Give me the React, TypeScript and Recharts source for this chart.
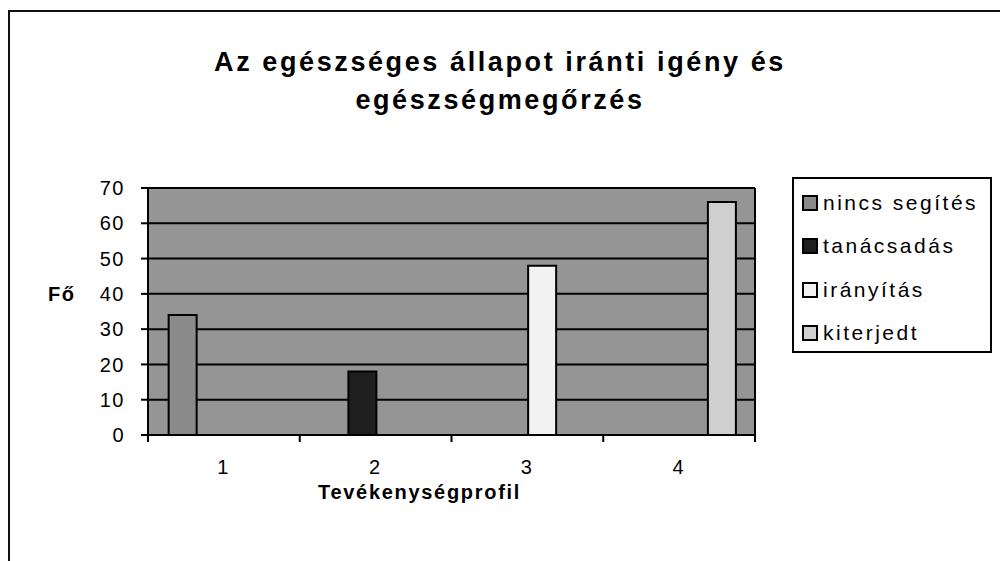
import React from 'react';
import { BarChart, Bar, XAxis, YAxis, CartesianGrid } from 'recharts';

const categories = ['1', '2', '3', '4'];
const nincsSegites = [34, null, null, null];
const tanacsadas = [null, 18, null, null];
const iranyitas = [null, null, 48, null];
const kiterjedt = [null, null, null, 66];
const yTicks = [0, 10, 20, 30, 40, 50, 60, 70];

const series = [
    { key: 'nincs', name: 'nincs segítés', values: nincsSegites, fill: '#8a8a8a' },
    { key: 'tanacs', name: 'tanácsadás', values: tanacsadas, fill: '#1e1e1e' },
    { key: 'irany', name: 'irányítás', values: iranyitas, fill: '#f2f2f2' },
    { key: 'kiterj', name: 'kiterjedt', values: kiterjedt, fill: '#cfcfcf' },
];

const data = categories.map((cat, i) => {
    const row: Record<string, string | number | null> = { cat };
    series.forEach(s => {
        row[s.key] = s.values[i];
    });
    return row;
});

const FONT = '"Liberation Sans", Arial, sans-serif';
const margin = { top: 188, right: 245, bottom: 66, left: 80 };
const plotWidth = 1000 - margin.left - margin.right - 68;
const bandWidth = plotWidth / categories.length;

const XTick = (props: any) => {
    const { x, y, payload, index } = props;
    const left = x - bandWidth / 2;
    return (
        <g>
            <line x1={left} y1={y - 7} x2={left} y2={y} stroke="#000" strokeWidth={2} />
            {index === categories.length - 1 && (
                <line x1={x + bandWidth / 2} y1={y - 7} x2={x + bandWidth / 2} y2={y} stroke="#000" strokeWidth={2} />
            )}
            <text
                x={x}
                y={y + 25}
                textAnchor="middle"
                dominantBaseline="central"
                fontFamily={FONT}
                fontSize={20}
                letterSpacing={2}
                fill="#000"
            >
                {payload.value}
            </text>
        </g>
    );
};

export default function App() {
    return (
        <div style={{ position: 'absolute', left: 0, top: 0, width: 1000, height: 561, background: '#fff', fontFamily: FONT }}>
            <div style={{ position: 'absolute', left: 8, top: 10, right: 0, bottom: 0, borderTop: '2px solid #111', borderLeft: '2px solid #111' }} />
            <div
                style={{
                    position: 'absolute',
                    left: 0,
                    width: 1000,
                    top: 43,
                    textAlign: 'center',
                    fontWeight: 'bold',
                    fontSize: 27,
                    letterSpacing: 2.6,
                    lineHeight: '38px',
                    color: '#000',
                }}
            >
                Az egészséges állapot iránti igény és
                <br />
                egészségmegőrzés
            </div>
            <div style={{ position: 'absolute', left: 48, top: 283, fontWeight: 'bold', fontSize: 20, letterSpacing: 1.5 }}>Fő</div>
            <div style={{ position: 'absolute', left: 318, top: 481, fontWeight: 'bold', fontSize: 20, letterSpacing: 1.7 }}>
                Tevékenységprofil
            </div>
            <div
                style={{
                    position: 'absolute',
                    left: 792,
                    top: 177,
                    width: 196,
                    height: 172,
                    border: '2px solid #000',
                    boxSizing: 'content-box',
                }}
            >
                {series.map((s, i) => (
                    <div
                        key={s.key}
                        style={{
                            position: 'absolute',
                            left: 8,
                            top: 11 + i * 43.3,
                            height: 26,
                            display: 'flex',
                            alignItems: 'center',
                            fontSize: 21,
                            letterSpacing: 2.5,
                            whiteSpace: 'nowrap',
                        }}
                    >
                        <span
                            style={{
                                display: 'inline-block',
                                width: 12,
                                height: 12,
                                border: '2px solid #000',
                                background: s.fill,
                                marginRight: 5,
                            }}
                        />
                        {s.name}
                    </div>
                ))}
            </div>
            <div style={{ position: 'absolute', left: 0, top: 0 }}>
                <BarChart width={1000} height={561} data={data} margin={margin} barCategoryGap="13.6%" barGap={0}>
                    <CartesianGrid
                        fill="#959595"
                        fillOpacity={1}
                        stroke="#000"
                        strokeWidth={2}
                        strokeOpacity={1}
                        vertical={true}
                        verticalCoordinatesGenerator={({ offset }: any) => [offset.left + offset.width]}
                    />
                    <XAxis
                        dataKey="cat"
                        height={60}
                        axisLine={{ stroke: '#000', strokeWidth: 2 }}
                        tickLine={false}
                        tickSize={7}
                        tickMargin={0}
                        tick={<XTick />}
                        interval={0}
                    />
                    <YAxis
                        width={68}
                        domain={[0, 70]}
                        ticks={yTicks}
                        interval={0}
                        axisLine={{ stroke: '#000', strokeWidth: 2 }}
                        tickLine={{ stroke: '#000', strokeWidth: 2 }}
                        tickSize={7}
                        tickMargin={16}
                        tick={{ fill: '#000', fontSize: 20, fontFamily: FONT, letterSpacing: 1.5 }}
                    />
                    {series.map(s => (
                        <Bar
                            key={s.key}
                            dataKey={s.key}
                            name={s.name}
                            fill={s.fill}
                            stroke="#000"
                            strokeWidth={2}
                            isAnimationActive={false}
                        />
                    ))}
                </BarChart>
            </div>
        </div>
    );
}
